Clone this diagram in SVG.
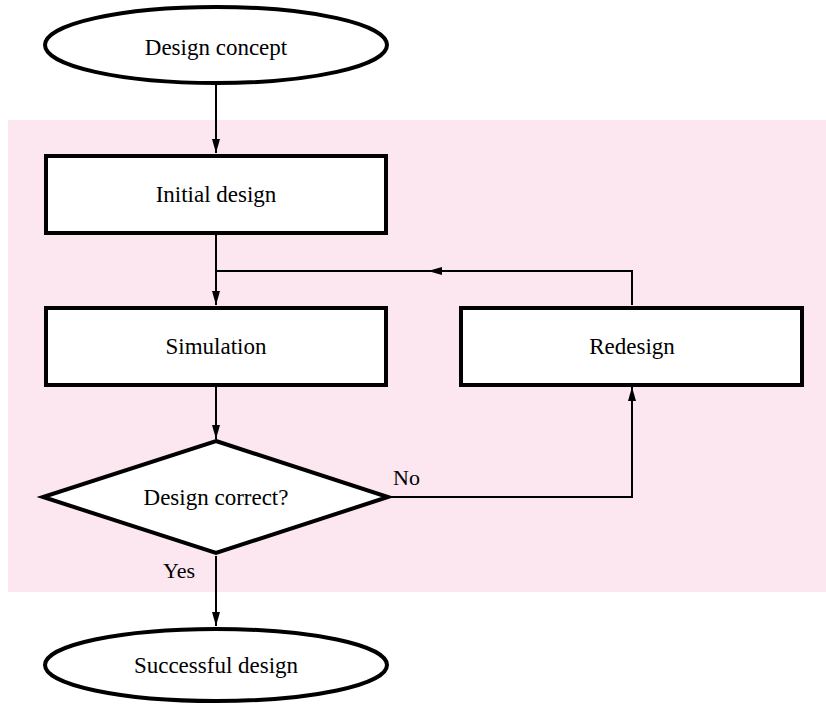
<svg xmlns="http://www.w3.org/2000/svg" width="826" height="704" viewBox="0 0 826 704">
<defs>
<style>
.node{fill:#fff;stroke:#000;stroke-width:4}
.lbl{font-family:"Liberation Serif","Times New Roman",serif;font-size:23px;fill:#000;text-anchor:middle}
.edge{fill:none;stroke:#000;stroke-width:2}
.elbl{font-family:"Liberation Serif","Times New Roman",serif;font-size:22px;fill:#000}
</style>
<marker id="ah" viewBox="0 0 14 8" refX="14" refY="4" markerWidth="14" markerHeight="8" markerUnits="userSpaceOnUse" orient="auto">
<path d="M0,0 L14,4 L0,8 Z" fill="#000"/>
</marker>
</defs>
<rect x="8" y="120" width="818" height="472" fill="#fce6f0"/>
<g id="connectors">
<path class="edge" d="M216,84 V153" marker-end="url(#ah)"/>
<path class="edge" d="M216,234 V305" marker-end="url(#ah)"/>
<path class="edge" d="M632,305 V271 H428" marker-end="url(#ah)"/>
<path class="edge" d="M428,271 H216"/>
<path class="edge" d="M216,386 V439" marker-end="url(#ah)"/>
<path class="edge" d="M389,497 H632 V387" marker-end="url(#ah)"/>
<path class="edge" d="M216,556 V626" marker-end="url(#ah)"/>
<text class="elbl" x="393" y="485">No</text>
<text class="elbl" x="163" y="578">Yes</text>
</g>
<g id="design-concept">
<ellipse class="node" cx="216" cy="45" rx="171" ry="38"/>
<text class="lbl" x="216" y="55">Design concept</text>
</g>
<g id="initial-design">
<rect class="node" x="46" y="156" width="340" height="77"/>
<text class="lbl" x="216" y="202">Initial design</text>
</g>
<g id="simulation">
<rect class="node" x="46" y="308" width="340" height="77"/>
<text class="lbl" x="216" y="354">Simulation</text>
</g>
<g id="redesign">
<rect class="node" x="461" y="308" width="341" height="77"/>
<text class="lbl" x="632" y="354">Redesign</text>
</g>
<g id="design-correct">
<polygon class="node" points="216,441 388,497 216,553 43,497"/>
<text class="lbl" x="216" y="505">Design correct?</text>
</g>
<g id="successful-design">
<ellipse class="node" cx="216" cy="665" rx="171" ry="36"/>
<text class="lbl" x="216" y="673">Successful design</text>
</g>
</svg>
